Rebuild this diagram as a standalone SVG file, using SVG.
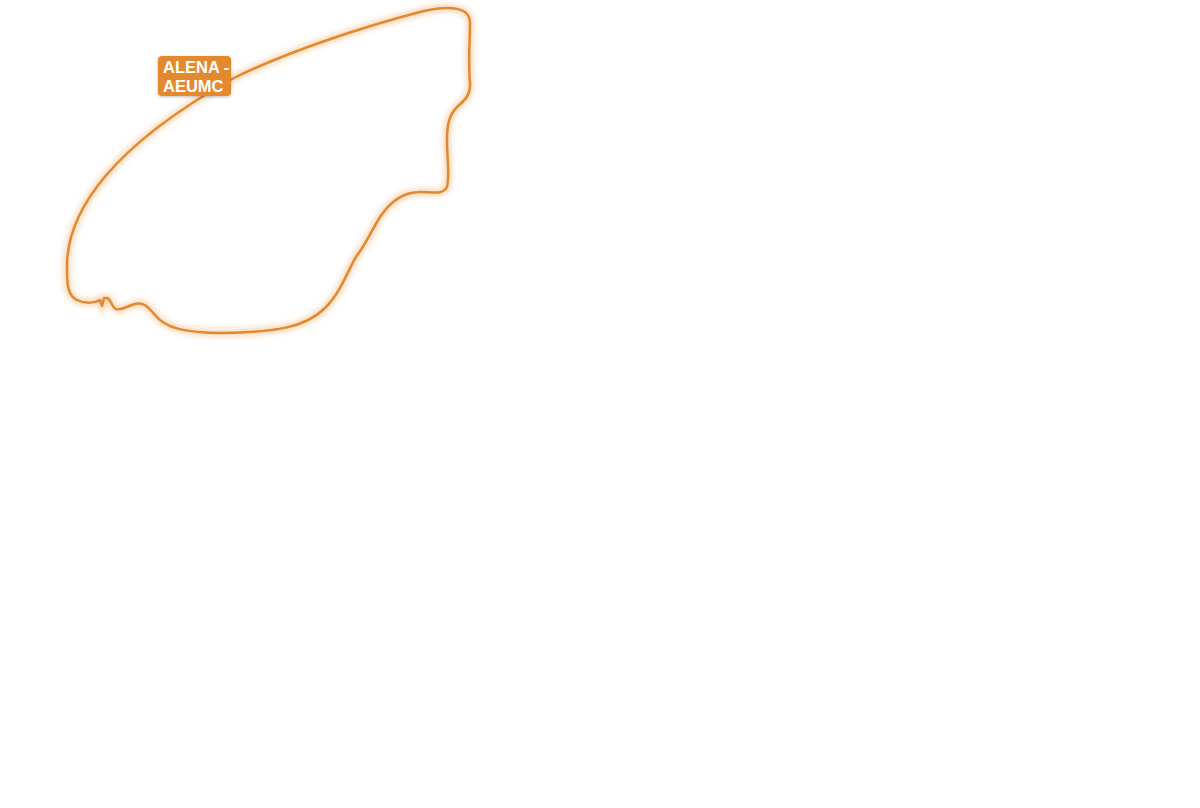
<svg xmlns="http://www.w3.org/2000/svg" width="1200" height="808" viewBox="0 0 1200 808">
  <defs>
    <filter id="glow" x="-10%" y="-10%" width="120%" height="120%">
      <feGaussianBlur stdDeviation="3"/>
    </filter>
    <filter id="shadow" x="-20%" y="-20%" width="140%" height="160%">
      <feDropShadow dx="0" dy="1" stdDeviation="1.5" flood-color="#000" flood-opacity="0.25"/>
    </filter>
    <path id="outline" d="M 447,8 C 462,8 470,12 470,23 C 470,40 468,60 470,83 C 471,97 462,102 457,107 C 448,116 447,128 447,140 C 447,160 450,175 447,187 C 443,195 432,192 420,192 C 400,192 388,205 380,217 C 372,230 365,245 358,254 C 350,264 343,290 325,308 C 305,328 275,332 223,333 C 185,333 165,328 155,315 C 148,307 144,302 135,304 C 125,307 120,311 116,309 C 112,308 111,299 107,298 L 104,298 L 102,306 L 100,300 C 95,303 85,304 77,300 C 68,296 67,285 67,270 C 65,210 115,145 232,79 C 290,50 370,25 420,12 C 432,9 440,8 447,8 Z"/>
  </defs>
  <style>
    .halo { fill: none; stroke: #E8892B; stroke-width: 6; opacity: 0.4; }
    .line { fill: none; stroke: #E3882E; stroke-width: 2.5; stroke-linejoin: round; }
    .tag { fill: #E5892F; }
    .tagtext { fill: #ffffff; font-family: "Liberation Sans", Arial, sans-serif; font-weight: bold; font-size: 16.5px; }
  </style>
  <rect width="1200" height="808" fill="#ffffff"/>
  <g id="region-alena">
    <use href="#outline" class="halo" filter="url(#glow)"/>
    <use href="#outline" class="line"/>
  </g>
  <g id="label-alena">
    <rect class="tag" x="158" y="56" width="73" height="40" rx="4" filter="url(#shadow)"/>
    <text class="tagtext" x="163" y="73">ALENA -<tspan x="163" dy="19">AEUMC</tspan></text>
  </g>
</svg>
